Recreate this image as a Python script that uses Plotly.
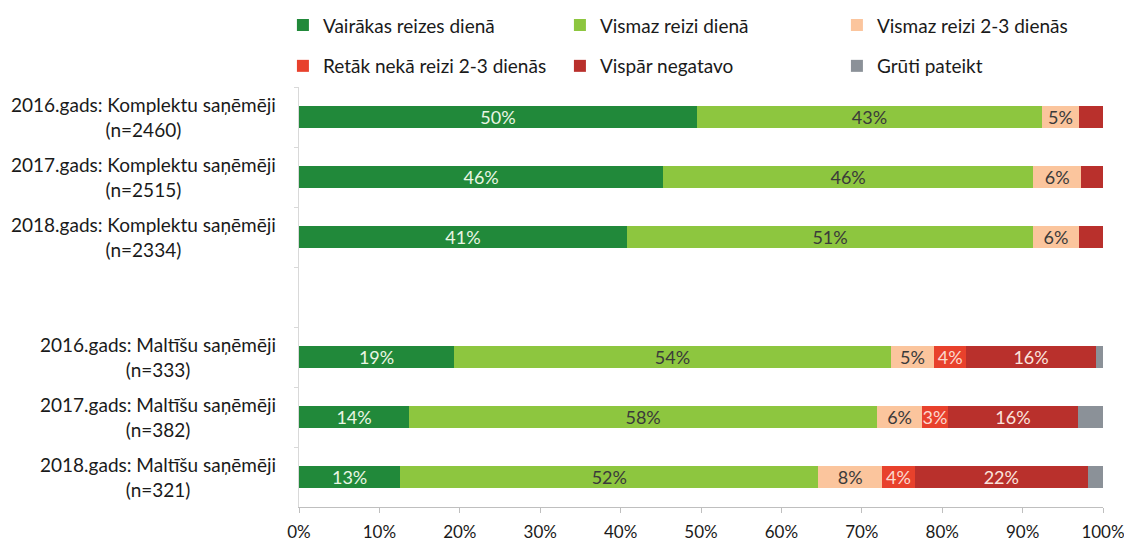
import plotly.graph_objects as go

# ---- data ----
categories = [
    "2016.gads: Komplektu saņēmēji<br>(n=2460)",
    "2017.gads: Komplektu saņēmēji<br>(n=2515)",
    "2018.gads: Komplektu saņēmēji<br>(n=2334)",
    " ",
    "2016.gads: Maltīšu saņēmēji<br>(n=333)",
    "2017.gads: Maltīšu saņēmēji<br>(n=382)",
    "2018.gads: Maltīšu saņēmēji<br>(n=321)",
]
series_names = [
    "Vairākas reizes dienā",
    "Vismaz reizi dienā",
    "Vismaz reizi 2-3 dienās",
    "Retāk nekā reizi 2-3 dienās",
    "Vispār negatavo",
    "Grūti pateikt",
]
vairakas = [49.5, 45.3, 40.8, None, 19.3, 13.7, 12.6]
vismaz_diena = [42.9, 46.0, 50.5, None, 54.3, 58.2, 52.0]
vismaz_23 = [4.6, 6.0, 5.7, None, 5.4, 5.6, 7.9]
retak = [0.0, 0.0, 0.0, None, 4.0, 3.2, 4.1]
negatavo = [3.0, 2.7, 3.0, None, 16.1, 16.2, 21.5]
gruti = [0.0, 0.0, 0.0, None, 0.9, 3.1, 1.9]
values = [vairakas, vismaz_diena, vismaz_23, retak, negatavo, gruti]

labels_vairakas = ["50%", "46%", "41%", "", "19%", "14%", "13%"]
labels_vismaz_diena = ["43%", "46%", "51%", "", "54%", "58%", "52%"]
labels_vismaz_23 = ["5%", "6%", "6%", "", "5%", "6%", "8%"]
labels_retak = ["", "", "", "", "4%", "3%", "4%"]
labels_negatavo = ["", "", "", "", "16%", "16%", "22%"]
labels_gruti = ["", "", "", "", "", "3%", ""]
labels = [labels_vairakas, labels_vismaz_diena, labels_vismaz_23,
          labels_retak, labels_negatavo, labels_gruti]

colors = ["#21893a", "#8dc63f", "#fbc59d", "#e8412c", "#b9302c", "#8b9198"]
text_colors = ["#eaf6e4", "#3a3a3a", "#3a3a3a", "#fbd9cf", "#fbe3dc", "#f2f2f2"]
legend_ids = ["legend", "legend", "legend", "legend2", "legend2", "legend2"]

FONT = "Lato"

fig = go.Figure()
for name, vals, lab, col, tcol, lg in zip(series_names, values, labels, colors, text_colors, legend_ids):
    fig.add_trace(go.Bar(
        y=categories,
        x=[None if v is None else v / 100 for v in vals],
        name=name,
        orientation="h",
        marker=dict(color=col, line=dict(width=0)),
        text=lab,
        textposition="inside",
        insidetextanchor="middle",
        constraintext="none",
        textfont=dict(family=FONT, size=18, color=tcol),
        hoverinfo="x+name",
        legend=lg,
        cliponaxis=False,
    ))

# category labels as centered annotations
for cat in categories:
    if cat.strip():
        fig.add_annotation(
            x=0, xref="paper", xanchor="right", xshift=-21,
            y=cat, yref="y", yanchor="middle",
            text=cat, showarrow=False, align="center",
            font=dict(family=FONT, size=19, color="#1a1a1a"),
        )

fig.update_layout(
    width=1132, height=545,
    margin=dict(l=291, r=37, t=79, b=46, autoexpand=False),
    barmode="stack",
    bargap=0.62,
    plot_bgcolor="white",
    paper_bgcolor="white",
    font=dict(family=FONT, size=17, color="#1a1a1a"),
    legend=dict(
        orientation="h", x=-0.02, xanchor="left", y=1.147, yanchor="middle",
        entrywidth=232, entrywidthmode="pixels",
        font=dict(family=FONT, size=19, color="#1a1a1a"),
        traceorder="normal",
    ),
    legend2=dict(
        orientation="h", x=-0.02, xanchor="left", y=1.05, yanchor="middle",
        entrywidth=232, entrywidthmode="pixels",
        font=dict(family=FONT, size=19, color="#1a1a1a"),
        traceorder="normal",
    ),
    xaxis=dict(
        range=[0, 1], dtick=0.1, tickformat=".0%",
        showgrid=False, zeroline=False,
        showline=True, linecolor="#bfbfbf", linewidth=1,
        ticks="outside", ticklen=5, tickcolor="#bfbfbf",
        ticklabelstandoff=5,
        tickfont=dict(family=FONT, size=17, color="#1a1a1a"),
    ),
    yaxis=dict(
        type="category", categoryorder="array", categoryarray=categories,
        autorange="reversed",
        showticklabels=False, showgrid=False, zeroline=False,
        showline=True, linecolor="#d9d9d9", linewidth=1,
        ticks="outside", ticklen=4, tickcolor="#d9d9d9", tickson="boundaries",
    ),
)

fig.write_html("out.html")
